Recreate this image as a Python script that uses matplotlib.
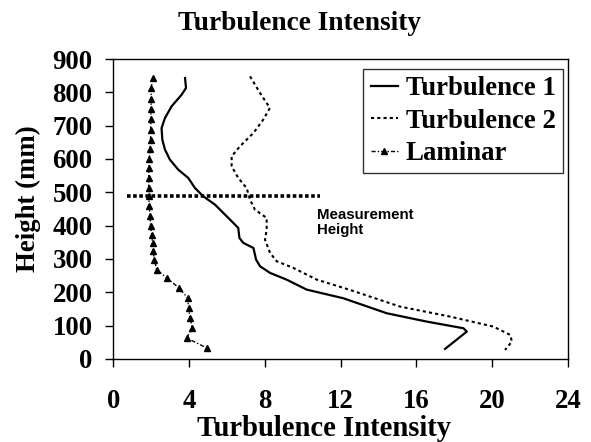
import numpy as np
import matplotlib
matplotlib.use("Agg")
import matplotlib.pyplot as plt

plt.rcParams["font.family"] = ["Liberation Serif", "DejaVu Serif"]
plt.rcParams["font.weight"] = "bold"

# Turbulence 1 profile (intensity, height mm)
t1_x = [3.78, 3.83, 3.60, 3.07, 2.72, 2.54, 2.58, 2.72, 2.98, 3.42, 3.95, 4.30,
        4.74, 5.36, 5.80, 6.33, 6.59, 6.65, 6.86, 7.39, 7.53, 7.74, 8.27, 9.14,
        10.2, 12.14, 14.43, 16.54, 18.48, 18.66, 17.51]
t1_y = [843, 813, 793, 758, 723, 693, 658, 628, 598, 568, 543, 513,
        488, 463, 438, 408, 393, 363, 348, 333, 298, 278, 258, 238,
        208, 182, 137, 112, 92, 82, 30]

# Turbulence 2 profile
t2_x = [7.21, 7.74, 8.26, 7.91, 7.39, 6.68, 6.24, 6.24, 6.59, 7.03, 7.21, 7.47,
        8.09, 8.09, 8.00, 8.27, 8.62, 9.5, 10.73, 12.49, 15.13, 17.78, 20.06,
        20.95, 21.04, 20.68]
t2_y = [848, 798, 753, 718, 678, 638, 608, 578, 543, 513, 478, 448,
        423, 388, 358, 318, 293, 273, 238, 207, 157, 127, 97,
        72, 52, 27]

# Laminar profile
lam_x = [2.10, 1.98, 2.00, 1.98, 1.98, 1.96, 1.96, 1.93, 1.89, 1.87, 1.86, 1.86,
         1.86, 1.89, 1.93, 1.96, 2.02, 2.07, 2.10, 2.16, 2.28, 2.81, 3.46, 3.92,
         3.97, 4.04, 4.16, 3.86, 4.92]
lam_y = [843, 813, 780, 750, 720, 688, 658, 630, 600, 573, 543, 513,
         488, 458, 428, 398, 373, 348, 323, 298, 268, 243, 213, 183,
         153, 123, 93, 63, 33]

# measurement height marker
meas_x = [0.7, 10.9]
meas_y = [488, 488]

x_ticks = [0, 4, 8, 12, 16, 20, 24]
y_ticks = [0, 100, 200, 300, 400, 500, 600, 700, 800, 900]

fig = plt.figure(figsize=(5.91, 4.42), dpi=100)
ax = fig.add_axes([0.192, 0.188, 0.769, 0.6785])

ax.plot(t1_x, t1_y, color="black", lw=1.6, label="Turbulence 1")
ax.plot(t2_x, t2_y, color="black", lw=1.5, linestyle=(0, (1.5, 1.5)),
        label="Turbulence 2")
ax.plot(lam_x, lam_y, color="black", lw=1.0, linestyle=(0, (3, 1.5, 1, 1.5)),
        marker="^", markersize=4.5, label="Laminar")
ax.plot(meas_x, meas_y, color="black", lw=2.6, linestyle=(0, (1, 0.7)))

ax.text(10.75, 453, "Measurement\nHeight", fontsize=10.8, fontweight="bold",
        family=["Liberation Sans", "DejaVu Sans"], va="top", ha="left",
        linespacing=1.1)

ax.set_xlim(0, 24)
ax.set_ylim(0, 900)
ax.set_xticks(x_ticks)
ax.set_yticks(y_ticks)
ax.tick_params(axis="x", direction="out", length=6, width=1, labelsize=19.3, pad=16)
ax.tick_params(axis="y", direction="out", length=6, width=1, labelsize=19.3, pad=9)
for sp in ax.spines.values():
    sp.set_linewidth(1.0)

leg = ax.legend(loc="upper right", bbox_to_anchor=(0.989, 0.967), fontsize=19.3,
                frameon=True, fancybox=False, edgecolor="black",
                handlelength=1.0, handletextpad=0.3, labelspacing=0.27,
                borderpad=0.28, borderaxespad=0)
leg.get_frame().set_linewidth(1.0)

fig.text(0.506, 1 - 23 / 442, "Turbulence Intensity", fontsize=19.7,
         fontweight="bold", ha="center", va="center")
fig.text(0.548, 1 - 429 / 442, "Turbulence Intensity", fontsize=20.6,
         fontweight="bold", ha="center", va="center")
fig.text(28 / 591, 1 - 199 / 442, "Height (mm)", fontsize=19.3,
         fontweight="bold", ha="center", va="center", rotation=90)

fig.savefig("out.png", dpi=100, facecolor="white")
